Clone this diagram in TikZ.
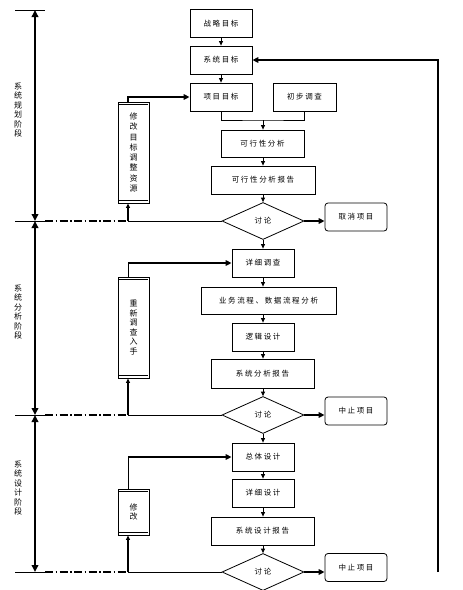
\documentclass[tikz,border=0pt]{standalone}
\usepackage{fontspec}
\newfontfamily\cjk[LetterSpace=22]{Noto Sans CJK SC}
\newfontfamily\cjkv{Noto Sans CJK SC}
\usetikzlibrary{shapes.geometric,arrows.meta}

\begin{document}
\begin{tikzpicture}[x=1pt,y=-1pt,
      thn/.style={line width=0.8pt},
      thk/.style={line width=2pt},
      ar/.style={-{Triangle[length=4.5pt,width=4pt]}},
      arthk/.style={-{Triangle[length=6pt,width=5.5pt]}},
      dim/.style={line width=2pt,{Triangle[length=7pt,width=6.5pt]}-{Triangle[length=7pt,width=6.5pt]}},
      dashdot/.style={line width=1.6pt,dash pattern=on 8pt off 2.5pt on 1.5pt off 2.5pt},
      box/.style={draw,thn,inner sep=0pt,font=\cjk\fontsize{7.5}{9}\selectfont},
      std/.style={box,minimum width=62pt,minimum height=28pt},
      endbox/.style={std,rounded corners=3pt},
      talk/.style={box,diamond,minimum width=82pt,minimum height=37pt},
      side/.style={draw,thn,inner sep=0pt,minimum width=31pt,align=center},
      phase/.style={align=center,font=\cjkv\fontsize{8}{9.4}\selectfont},
      ]
        \useasboundingbox (0,0) rectangle (463,590);

        % system planning
        \node [std] (zlmb) at (221,23.5) {战略目标};
        \node [std] (xtmb) at (221,60) {系统目标};
        \node [std] (xmmb) at (221,97) {项目目标};
        \node [std,minimum width=63pt] (cbdc) at (304.5,97) {初步调查};
        \node [box,minimum width=83pt,minimum height=27pt] (kxxfx) at (262.5,143.5) {可行性分析};
        \node [box,minimum width=104pt,minimum height=28pt] (kxxbg) at (263,180) {可行性分析报告};
        \node [talk] (tl1) at (263,221) {讨论};
        \node [endbox] (qxxm) at (356,217) {取消项目};

        % system analysis
        \node [std] (xxdc) at (263,263) {详细调查};
        \node [box,minimum width=135pt,minimum height=27pt] (ywlc) at (268.5,300.5) {业务流程、数据流程分析};
        \node [std] (ljsj) at (263,337) {逻辑设计};
        \node [box,minimum width=103pt,minimum height=29pt] (xtfxbg) at (262.5,373.5) {系统分析报告};
        \node [talk] (tl2) at (263,415) {讨论};
        \node [endbox] (zzxm1) at (356,411) {中止项目};

        % system design
        \node [std] (ztsj) at (263,457) {总体设计};
        \node [std] (xxsj) at (263,493) {详细设计};
        \node [box,minimum width=103pt,minimum height=28pt] (xtsjbg) at (262.5,531) {系统设计报告};
        \node [talk] (tl3) at (263,572) {讨论};
        \node [endbox] (zzxm2) at (356,567.5) {中止项目};

        % main flow
        \draw [thn,ar] (zlmb) -- (xtmb);
        \draw [thn,ar] (xtmb) -- (xmmb);
        \coordinate (hb) at (263,120);
        \draw [thn] (xmmb.south) |- (hb) -| (cbdc.south);
        \draw [thn,ar] (hb) -- (hb |- kxxfx.north);
        \draw [thn,ar] (kxxfx.south -| hb) -- (hb |- kxxbg.north);
        \draw [thn,ar] (kxxbg.south -| hb) -- (tl1.north);
        \draw [thk,arthk] (tl1.east) -- (tl1.east -| qxxm.west);
        \draw [thn,ar] (tl1.south) -- (xxdc.north);
        \draw [thn,ar] (xxdc.south) -- (xxdc.south |- ywlc.north);
        \draw [thn,ar] (ywlc.south -| xxdc) -- (ljsj.north);
        \draw [thn,ar] (ljsj.south) -- (ljsj.south |- xtfxbg.north);
        \draw [thn,ar] (xtfxbg.south -| ljsj) -- (tl2.north);
        \draw [thk,arthk] (tl2.east) -- (tl2.east -| zzxm1.west);
        \draw [thn,ar] (tl2.south) -- (ztsj.north);
        \draw [thn,ar] (ztsj) -- (xxsj);
        \draw [thn,ar] (xxsj.south) -- (xxsj.south |- xtsjbg.north);
        \draw [thn,ar] (xtsjbg.south -| xxsj) -- (tl3.north);
        \draw [thk,arthk] (tl3.east) -- (tl3.east -| zzxm2.west);

        % feedback
        \coordinate (fb) at (438,572);
        \draw [thk,arthk] (fb) |- (xtmb.east);

        % phases
        \coordinate (top) at (35,10);
        \coordinate (r1) at (35,221);
        \coordinate (r2) at (35,415);
        \coordinate (r3) at (35,572);
        \draw [thn] (top) ++(-20,0) -- ++(30,0);
        \draw [dim] (top) -- (r1);
        \draw [dim] (r1) -- (r2);
        \draw [dim] (r2) -- (r3);
        \foreach \r/\t in {r1/tl1,r2/tl2,r3/tl3} {
          \draw [thn] (\r) ++(-20,0) -- ++(30,0);
          \draw [dashdot] (\r) ++(10,0) -- ++(83,0) coordinate (\r c);
          \draw [thn] (\r c) -- (\t.west);
        }
        \node [phase] (jd1) at (18,110) {系\\统\\规\\划\\阶\\段};
        \node [phase] (jd2) at (18,312) {系\\统\\分\\析\\阶\\段};
        \node [phase] (jd3) at (18,488) {系\\统\\设\\计\\阶\\段};

        % side boxes
        \node [side,minimum height=101pt,font=\cjkv\fontsize{8}{10.3}\selectfont]
          (xg1) at (133.5,152.5) {修\\改\\目\\标\\调\\整\\资\\源};
        \node [side,minimum height=101pt,font=\cjkv\fontsize{8}{9.6}\selectfont]
          (xg2) at (133.5,327.5) {重\\新\\调\\查\\入\\手};
        \node [side,minimum height=46pt,font=\cjkv\fontsize{8}{9.6}\selectfont]
          (xg3) at (133.5,512) {修\\改};
        \foreach \s in {xg1,xg2,xg3} {
          \draw [thn] (\s.north west) ++(1,3) -- ++(29,0);
          \draw [thn] (\s.south west) ++(1,-3) -- ++(29,0);
        }
        \draw [thk,ar] (r1c) -- (r1c |- xg1.south);
        \draw [thk,ar] (r2c) -- (r2c |- xg2.south);
        \draw [thk,ar] (r3c) -- (r3c |- xg3.south);
        \draw [thk,arthk] (xg1.north -| r1c) |- (xmmb.west);
        \draw [thn] (xg2.north -| r2c) -- (r2c |- xxdc.west) coordinate (c2);
        \draw [thk,arthk] (c2) -- (xxdc.west);
        \draw [thn] (xg3.north -| r3c) -- (r3c |- ztsj.west) coordinate (c3);
        \draw [thk,arthk] (c3) -- (ztsj.west);
      \end{tikzpicture}
\end{document}
